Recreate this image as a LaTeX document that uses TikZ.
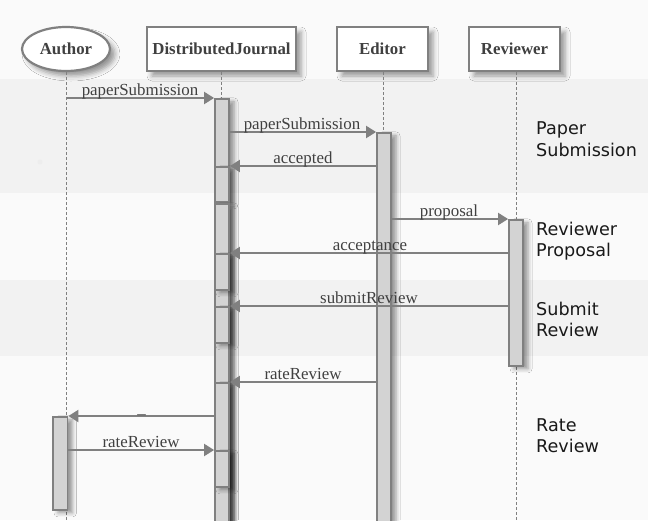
\documentclass[tikz,border=0pt]{standalone}
\usepackage{fontspec}
\setmainfont{Liberation Serif}
\newfontfamily\dvsans{DejaVu Sans}
\usetikzlibrary{arrows.meta,shapes.geometric,shadows.blur}
\definecolor{bgc}{HTML}{FAFAFA}
\definecolor{bandc}{HTML}{F2F2F2}
\definecolor{linec}{HTML}{808080}
\definecolor{barc}{HTML}{D3D3D3}
\definecolor{txtc}{HTML}{404040}
\begin{document}
\begin{tikzpicture}[x=1pt,y=-1pt,
  lbl/.style={font=\fontsize{16.9}{20}\selectfont, text=txtc, anchor=base, inner sep=0pt},
  sec/.style={font=\dvsans\fontsize{17.6}{21.7}\selectfont, text=black!90, anchor=base west, inner sep=0pt},
  actor/.style={draw=linec, line width=2.2pt, fill=white, inner sep=0pt, font=\bfseries\fontsize{16.8}{20}\selectfont, text=txtc, blur shadow={shadow xshift=5pt, shadow yshift=-5pt, shadow blur radius=5pt, shadow opacity=40}},
  bar/.style={draw=linec, line width=1.8pt, fill=barc, minimum width=14pt, inner sep=0pt, anchor=north, blur shadow={shadow xshift=5pt, shadow yshift=-3pt, shadow blur radius=4pt, shadow opacity=40}},
  msg/.style={draw=linec, line width=2pt, -{Triangle[length=10pt,width=12pt]}},
  life/.style={draw=linec, line width=0.9pt, dash pattern=on 3pt off 2pt}]
\useasboundingbox (0,0) rectangle (648,520);
\clip (0,0) rectangle (648,520);
% background and bands
\fill[bgc] (0,0) rectangle (648,520);
\fill[bandc] (0,79) rectangle (648,193);
\fill[bandc] (0,280) rectangle (648,356);
\fill[black!7] (40,162) circle (2.5pt);

% actors
\node[actor, ellipse, minimum width=88pt, minimum height=44pt] (au) at (66,49) {Author};
\node[actor, rectangle, minimum width=149pt, minimum height=44pt] (dj) at (221.5,49) {DistributedJournal};
\node[actor, rectangle, minimum width=91pt, minimum height=44pt] (ed) at (382.5,49) {Editor};
\node[actor, rectangle, minimum width=91pt, minimum height=44pt] (rv) at (514.5,49) {Reviewer};

% lifeline ends
\coordinate (auEnd) at (66.5,530);
\coordinate (rvEnd) at (516,530);
\coordinate (djTop) at (221.5,98);
\coordinate (edTop) at (383.5,132);
\draw[life] (au.south -| auEnd) -- (auEnd);
\draw[life] (dj.south) -- (djTop);
\draw[life] (ed.south -| edTop) -- (edTop);
\draw[life] (rv.south -| rvEnd) -- (rvEnd);

% activation bars
\node[bar, minimum height=440pt] (bdj) at (222,98) {};
\node[bar, minimum height=35pt] (n1) at (222,166) {};
\node[bar, minimum height=330pt] (n2) at (222,203) {};
\node[bar, minimum height=36pt] (n3) at (222,253) {};
\node[bar, minimum height=36pt] (n4) at (222,306) {};
\node[bar, minimum height=160pt] (n5) at (222,382) {};
\node[bar, minimum height=36pt] (n6) at (222,450) {};
\node[bar, minimum height=400pt] (bed) at (384,132) {};
\node[bar, minimum height=146pt] (brv) at (516,219) {};
\node[bar, minimum height=93pt, minimum width=14.5pt] (bau) at (60.25,416) {};

% message levels
\coordinate (y1) at (66.5,98);
\coordinate (y2) at (0,132);
\coordinate (y3) at (0,166);
\coordinate (y4) at (0,219);
\coordinate (y5) at (0,253);
\coordinate (y6) at (0,306);
\coordinate (y7) at (0,382);
\coordinate (y8) at (0,416);
\coordinate (y9) at (0,450);

% messages
\draw[msg] (y1) -- (bdj.west |- y1);
\draw[msg] (bdj.east |- y2) -- (bed.west |- y2);
\draw[msg] (bed.west |- y3) -- (bdj.east |- y3);
\draw[msg] (bed.east |- y4) -- (brv.west |- y4);
\draw[msg] (brv.west |- y5) -- (bdj.east |- y5);
\draw[msg] (brv.west |- y6) -- (bdj.east |- y6);
\draw[msg] (bed.west |- y7) -- (bdj.east |- y7);
\draw[msg] (bdj.west |- y8) -- (bau.east |- y8);
\draw[msg] (bau.east |- y9) -- (bdj.west |- y9);

% message labels
\node[lbl] (l1) at (140,95.2) {paperSubmission};
\node[lbl] (l2) at (302,129.2) {paperSubmission};
\node[lbl] (l3) at (303,163.2) {accepted};
\node[lbl] (l4) at (449,216.2) {proposal};
\node[lbl] (l5) at (370,250.2) {acceptance};
\node[lbl] (l6) at (369,303.2) {submitReview};
\node[lbl] (l7) at (303,379.2) {rateReview};
\node[lbl] (l8) at (141.5,413) {\_};
\node[lbl] (l9) at (141,447.2) {rateReview};

% section labels
\node[sec] (s1a) at (536,134.3) {Paper};
\node[sec] (s1b) at (536,156) {Submission};
\node[sec] (s2a) at (536,235) {Reviewer};
\node[sec] (s2b) at (536,256.7) {Proposal};
\node[sec] (s3a) at (536,315) {Submit};
\node[sec] (s3b) at (536,336.7) {Review};
\node[sec] (s4a) at (536,431) {Rate};
\node[sec] (s4b) at (536,452.7) {Review};
\end{tikzpicture}
\end{document}
